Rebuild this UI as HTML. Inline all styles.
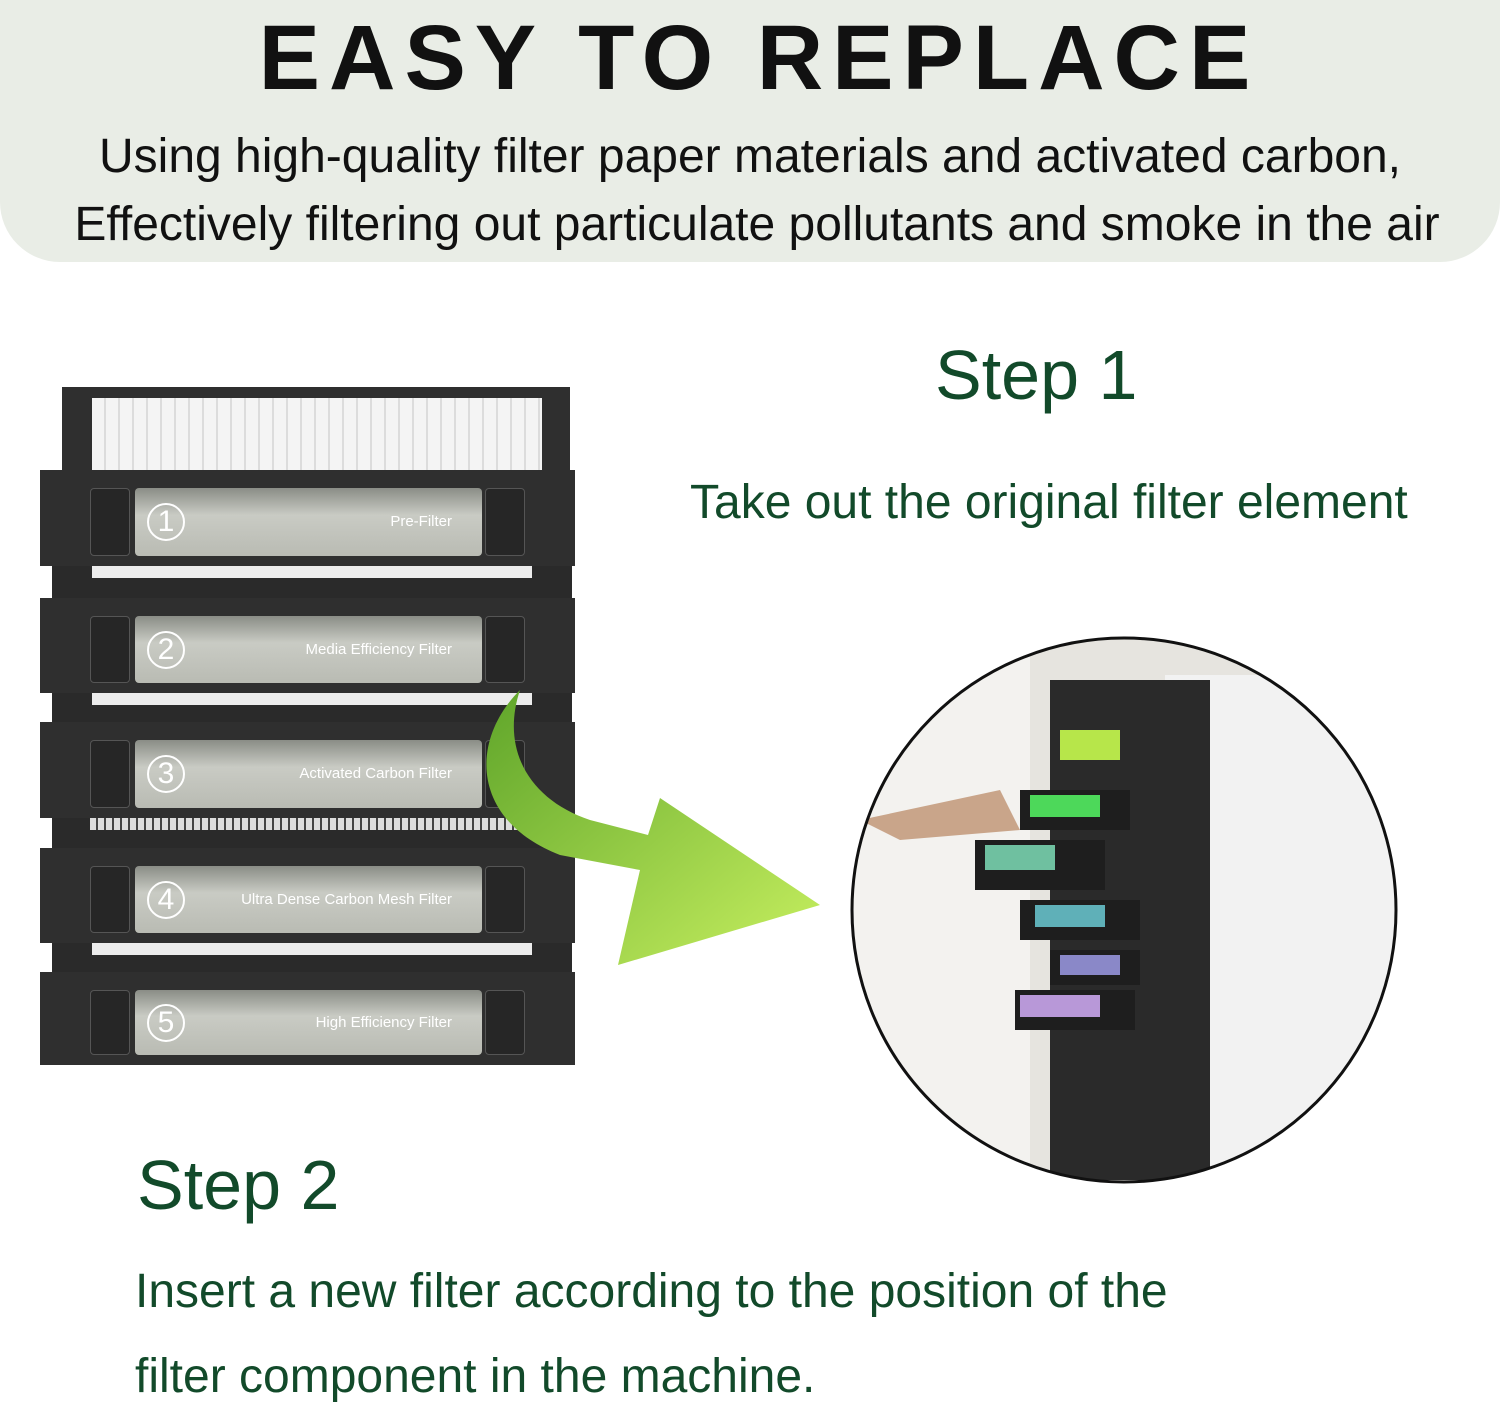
<!DOCTYPE html>
<html><head><meta charset="utf-8"><style>
body{margin:0;width:1500px;height:1405px;background:#fff;position:relative;overflow:hidden;font-family:"Liberation Sans",sans-serif}
.hdr{position:absolute;left:0;top:0;width:1500px;height:262px;background:#e9ede6;border-radius:0 0 60px 60px}
.t{position:absolute;white-space:nowrap}
.box{position:absolute;left:40px;width:535px;background:#2f2f2f}
.panel{position:absolute;left:95px;width:347px;top:18px;bottom:10px;background:linear-gradient(#8a8d86,#c9cbc4 40%,#b9bbb3);border-radius:4px}
.num{position:absolute;left:12px;top:50%;margin-top:-19px;width:34px;height:34px;border:2px solid #fff;border-radius:50%;color:#fff;font-size:30px;text-align:center;line-height:34px}
.lab{position:absolute;right:30px;top:50%;margin-top:-9px;color:#fff;font-size:15px}
.tab{position:absolute;top:18px;bottom:10px;width:38px;background:#262626;border:1px solid #555;border-radius:4px}
.gap{position:absolute;left:52px;width:520px;background:#2a2a2a}
.strip{position:absolute;left:92px;width:440px;height:12px;background:#ececec}
</style></head><body>
<div class="hdr"></div>
<div class="t" style="left:9px;width:1500px;text-align:center;top:6px;font-size:92px;font-weight:bold;letter-spacing:9px;color:#111">EASY TO REPLACE</div>
<div class="t" style="left:0;width:1500px;text-align:center;top:129px;font-size:48px;color:#111">Using high-quality filter paper materials and activated carbon,</div>
<div class="t" style="left:0;width:1514px;text-align:center;top:197px;font-size:48px;color:#111">Effectively filtering out particulate pollutants and smoke in the air</div>

<div class="t" style="left:935px;top:335px;font-size:70px;color:#124a2a">Step 1</div>
<div class="t" style="left:690px;top:475px;font-size:48px;color:#124a2a">Take out the original filter element</div>
<div class="t" style="left:137px;top:1145px;font-size:70px;color:#124a2a">Step 2</div>
<div class="t" style="left:135px;top:1264px;font-size:48px;color:#124a2a">Insert a new filter according to the position of the</div>
<div class="t" style="left:135px;top:1349px;font-size:48px;color:#124a2a">filter component in the machine.</div>

<div style="position:absolute;left:62px;top:387px;width:508px;height:90px;background:#2f2f2f"></div>
<div style="position:absolute;left:92px;top:398px;width:450px;height:75px;background:repeating-linear-gradient(90deg,#f4f4f4 0 12px,#dcdcdc 12px 14px)"></div>
<div class="gap" style="top:566px;height:32px"></div><div class="strip" style="top:566px"></div>
<div class="gap" style="top:693px;height:29px"></div><div class="strip" style="top:693px"></div>
<div class="gap" style="top:818px;height:30px"></div><div class="strip" style="top:818px;left:90px;background:repeating-linear-gradient(90deg,#ddd 0 6px,#444 6px 8px)"></div>
<div class="gap" style="top:943px;height:29px"></div><div class="strip" style="top:943px"></div>

<div class="box" style="top:470px;height:96px"><div class="tab" style="left:50px"></div><div class="tab" style="left:445px"></div><div class="panel"><div class="num">1</div><div class="lab">Pre-Filter</div></div></div>
<div class="box" style="top:598px;height:95px"><div class="tab" style="left:50px"></div><div class="tab" style="left:445px"></div><div class="panel"><div class="num">2</div><div class="lab">Media Efficiency Filter</div></div></div>
<div class="box" style="top:722px;height:96px"><div class="tab" style="left:50px"></div><div class="tab" style="left:445px"></div><div class="panel"><div class="num">3</div><div class="lab">Activated Carbon Filter</div></div></div>
<div class="box" style="top:848px;height:95px"><div class="tab" style="left:50px"></div><div class="tab" style="left:445px"></div><div class="panel"><div class="num">4</div><div class="lab">Ultra Dense Carbon Mesh Filter</div></div></div>
<div class="box" style="top:972px;height:93px"><div class="tab" style="left:50px"></div><div class="tab" style="left:445px"></div><div class="panel"><div class="num">5</div><div class="lab">High Efficiency Filter</div></div></div>

<svg style="position:absolute;left:0;top:0" width="1500" height="1405">
<defs><linearGradient id="g" x1="0" y1="0" x2="1" y2="1"><stop offset="0" stop-color="#5fa52a"/><stop offset="1" stop-color="#c8f060"/></linearGradient>
<clipPath id="c"><circle cx="1124" cy="910" r="272"/></clipPath></defs>
<path d="M520 690 C470 740 470 820 560 855 L640 870 L618 965 L820 905 L660 798 L648 835 L590 820 C530 800 500 750 520 690Z" fill="url(#g)"/>
<g clip-path="url(#c)">
<rect x="850" y="638" width="550" height="550" fill="#e6e4df"/>
<rect x="850" y="638" width="180" height="550" fill="#f3f2ef"/>
<rect x="1165" y="675" width="235" height="513" fill="#f2f2f2"/>
<rect x="1050" y="680" width="160" height="500" fill="#2a2a2a"/>
<rect x="1060" y="730" width="60" height="30" fill="#b7e64a"/>
<rect x="1020" y="790" width="110" height="40" fill="#1e1e1e"/><rect x="1030" y="795" width="70" height="22" fill="#4dd85a"/>
<rect x="975" y="840" width="130" height="50" fill="#1e1e1e"/><rect x="985" y="845" width="70" height="25" fill="#6fc0a0"/>
<rect x="1020" y="900" width="120" height="40" fill="#1e1e1e"/><rect x="1035" y="905" width="70" height="22" fill="#5fb0b8"/>
<rect x="1050" y="950" width="90" height="35" fill="#1e1e1e"/><rect x="1060" y="955" width="60" height="20" fill="#8a88c8"/>
<rect x="1015" y="990" width="120" height="40" fill="#1e1e1e"/><rect x="1020" y="995" width="80" height="22" fill="#b898d8"/>
<path d="M860 820 L1000 790 L1020 830 L900 840Z" fill="#c9a58a"/>
</g>
<circle cx="1124" cy="910" r="272" fill="none" stroke="#111" stroke-width="3"/>
</svg>
</body></html>
